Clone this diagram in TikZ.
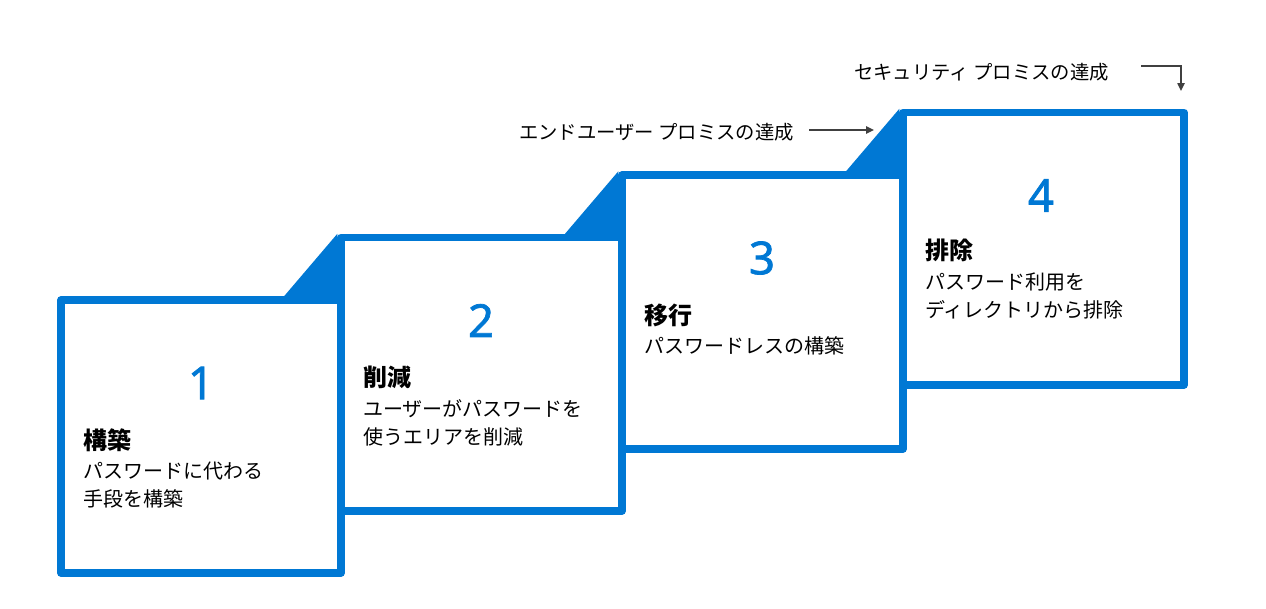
\documentclass[tikz,border=0pt]{standalone}
\usepackage{fontspec}
\setmainfont{Noto Sans CJK JP}
\newfontfamily\numfont[FakeBold=1.6]{Noto Sans}
\usetikzlibrary{arrows.meta}
\definecolor{msblue}{HTML}{0078D4}
\definecolor{arrgray}{HTML}{404040}
\begin{document}
\begin{tikzpicture}[x=0.75pt,y=-0.75pt,
  stepbox/.style={draw=msblue,line width=5.5pt,line join=round,fill=white},
  wedge/.style={fill=msblue},
  num/.style={font=\numfont\fontsize{34}{34}\selectfont,text=msblue,inner sep=0},
  head/.style={anchor=west,font=\bfseries\fontsize{18}{18}\selectfont,inner sep=0},
  body/.style={anchor=west,font=\fontsize{15}{15}\selectfont,inner sep=0},
  note/.style={anchor=east,font=\fontsize{14.5}{14.5}\selectfont,inner sep=0},
  arr/.style={draw=arrgray,line width=1.1pt,-{Triangle[length=6pt,width=5.5pt]}}]
\useasboundingbox (0,0) rectangle (1266,608);

% boxes
\draw[stepbox] (61,300) rectangle (341,573);
\draw[stepbox] (341,237.5) rectangle (622,511);
\draw[stepbox] (622,175) rectangle (903,449);
\draw[stepbox] (903,112.5) rectangle (1184,385);

% wedges
\fill[wedge] (284,296.3) -- (337.3,233.8) -- (341,300) -- cycle;
\fill[wedge] (565,233.8) -- (618.3,171.3) -- (622,237.5) -- cycle;
\fill[wedge] (846,171.3) -- (899.3,108.8) -- (903,175) -- cycle;

% box 1
\node[num] (n1) at (201,383) {1};
\node[head] (h1) at (83,440) {構築};
\node[body] (t1a) at (83,471) {パスワードに代わる};
\node[body] (t1b) at (83,499) {手段を構築};

% box 2
\node[num] (n2) at (481,320.5) {2};
\node[head] (h2) at (363,377.5) {削減};
\node[body] (t2a) at (363,408.5) {ユーザーがパスワードを};
\node[body] (t2b) at (363,436.5) {使うエリアを削減};

% box 3
\node[num] (n3) at (762,258) {3};
\node[head] (h3) at (644,315) {移行};
\node[body] (t3a) at (644,346) {パスワードレスの構築};

% box 4
\node[num] (n4) at (1041,195.5) {4};
\node[head] (h4) at (925,250) {排除};
\node[body] (t4a) at (925,281.5) {パスワード利用を};
\node[body] (t4b) at (925,309.5) {ディレクトリから排除};

% notes
\node[note] (s1) at (1109,72) {セキュリティ プロミスの達成};
\node[note] (s2) at (794,132) {エンドユーザー プロミスの達成};

\coordinate (a2s) at (1141,66);
\coordinate (a2e) at (1181,91);
\draw[arr] (a2s) -| (a2e);
\coordinate (a1s) at (809,130);
\coordinate (a1e) at (874,130);
\draw[arr] (a1s) -- (a1e);
\end{tikzpicture}
\end{document}
